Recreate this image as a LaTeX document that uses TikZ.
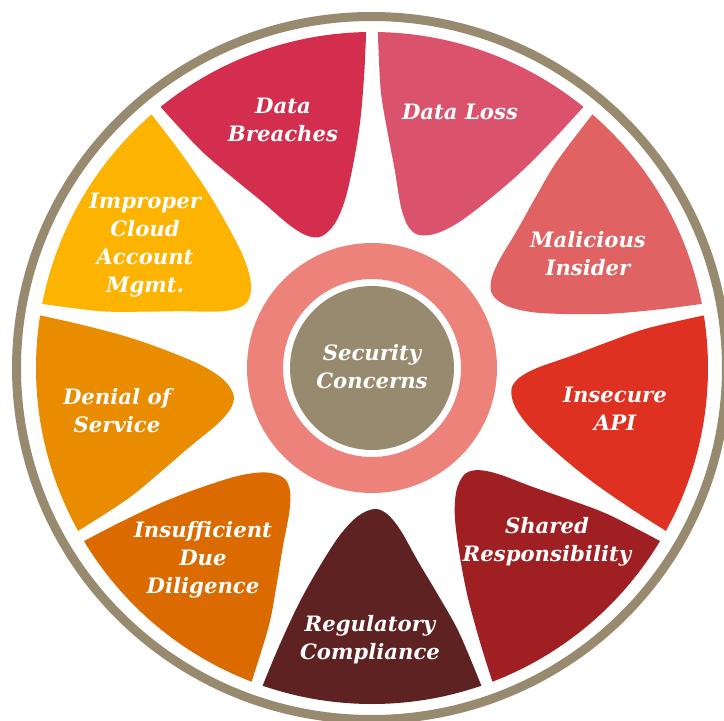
\documentclass[tikz,border=0pt]{standalone}
\usepackage{fontspec}
\newfontfamily\lblfont{DejaVu Serif}
\definecolor{ringgray}{HTML}{978A6E}
\definecolor{pinkring}{HTML}{EC827A}
\definecolor{cA}{HTML}{D32E4D}
\definecolor{cB}{HTML}{DA526B}
\definecolor{cC}{HTML}{E06262}
\definecolor{cD}{HTML}{DE3121}
\definecolor{cE}{HTML}{A01F22}
\definecolor{cF}{HTML}{5E2222}
\definecolor{cG}{HTML}{DB6A00}
\definecolor{cH}{HTML}{EA8C00}
\definecolor{cI}{HTML}{FDB400}
\newcommand\petalshape{(1:336) arc[start angle=1,end angle=39,radius=336] -- plot[smooth,tension=0.55] coordinates {(39:336) (38.2:278) (36.2:236) (33.5:200) (30:165) (26:147) (21:141) (14.5:149) (9:171) (5:208) (2.7:248) (1.5:295) (1:336)} -- cycle}
\begin{document}
\begin{tikzpicture}[x=1pt,y=1pt,
  lbl/.style={text=white,align=center,inner sep=0pt,font=\lblfont\bfseries\itshape\fontsize{21.2}{28}\selectfont}]
\useasboundingbox (-372,-353) rectangle (352,368);
\clip (-372,-353) rectangle (352,368);
\fill[white] (-372,-353) rectangle (352,368);
% outer ring
\draw[ringgray,line width=9] (-0.5,0) ellipse[x radius=355,y radius=351.5];
% petals
\foreach \b/\c in {90/cA,50/cB,10/cC,-30/cD,-70/cE,-110/cF,-150/cG,170/cH,130/cI}{
  \fill[\c,rotate=\b] \petalshape;
}
% center
\draw[pinkring,line width=36] (0,0) circle[radius=107];
\fill[ringgray] (0,0) circle[radius=82];
% labels
\node[lbl] (dbr) at (-89,248) {Data\\Breaches};
\node[lbl] (dlo) at (88,256) {Data Loss};
\node[lbl] (mal) at (216,114) {Malicious\\Insider};
\node[lbl] (api) at (243,-41) {Insecure\\API};
\node[lbl] (shr) at (175,-174) {Shared\\Responsibility};
\node[lbl] (reg) at (-2,-272) {Regulatory\\Compliance};
\node[lbl] (idd) at (-169,-192) {Insufficient\\Due\\Diligence};
\node[lbl] (dos) at (-255,-43) {Denial of\\Service};
\node[lbl] (icm) at (-227,123) {Improper\\Cloud\\Account\\Mgmt.};
\node[lbl] (sec) at (0,1) {Security\\Concerns};
\end{tikzpicture}
\end{document}
